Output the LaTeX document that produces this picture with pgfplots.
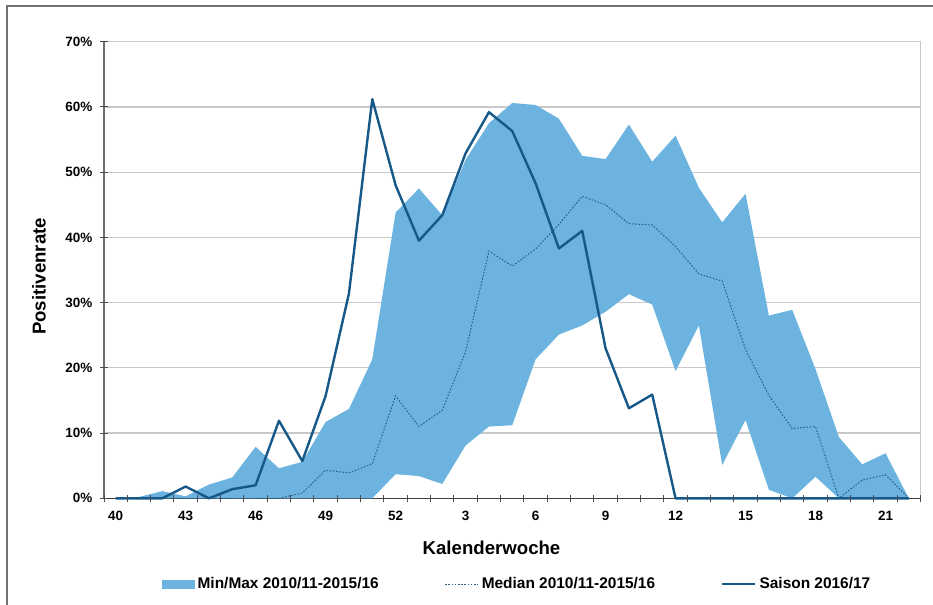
\documentclass[border=0pt]{standalone}
\usepackage{fontspec}
\setmainfont{Liberation Sans}
\usepackage{pgfplots}
\usepackage{pgfplotstable}
\pgfplotsset{compat=1.18}
\usepgfplotslibrary{fillbetween}
\definecolor{bandblue}{RGB}{108,180,223}
\definecolor{saiblue}{RGB}{22,88,135}
\definecolor{medblue}{RGB}{40,96,138}
\definecolor{gridgray}{RGB}{200,200,200}
\definecolor{axgray}{RGB}{110,110,110}

\pgfplotstableread{
idx week max min med sai
0 40 0 0 0 0
1 41 0.2 0 0 0
2 42 1.1 0 0 0
3 43 0.3 0 0 1.8
4 44 2.1 0 0 0
5 45 3.2 0 0 1.4
6 46 7.9 0 0 2.0
7 47 4.6 0 0 11.9
8 48 5.6 0 0.8 5.7
9 49 11.7 0 4.3 15.7
10 50 13.7 0 3.9 31.4
11 51 21.3 0 5.3 61.2
12 52 43.8 3.7 15.7 48.0
13 1 47.5 3.4 11.0 39.5
14 2 43.4 2.2 13.5 43.4
15 3 51.9 8.1 22.5 52.9
16 4 57.5 11.0 37.9 59.2
17 5 60.6 11.2 35.6 56.3
18 6 60.3 21.3 38.2 48.3
19 7 58.2 25.1 42.0 38.3
20 8 52.5 26.5 46.3 41.0
21 9 52.0 28.6 45.0 23.0
22 10 57.3 31.3 42.1 13.8
23 11 51.6 29.7 41.9 15.9
24 12 55.6 19.5 38.6 0
25 13 47.6 26.5 34.4 0
26 14 42.3 5.1 33.3 0
27 15 46.7 12.0 22.8 0
28 16 28.0 1.3 15.8 0
29 17 28.9 0 10.7 0
30 18 19.8 3.3 11.0 0
31 19 9.4 0 0 0
32 20 5.2 0 2.8 0
33 21 6.9 0 3.6 0
34 22 0 0 0 0
}\datatable

\begin{document}
\begin{tikzpicture}
\begin{axis}[
  at={(0,0)}, anchor=south west,
  scale only axis,
  width=816.5bp, height=456.6bp,
  xmin=-0.5, xmax=34.5,
  ymin=0, ymax=70,
  clip=false,
  axis lines*=left,
  x axis line style={draw=black!75, line width=1.3bp},
  y axis line style={draw=axgray, line width=1.3bp},
  xtick={-0.5,0.5,...,34.5},
  xticklabels={40,,,43,,,46,,,49,,,52,,,3,,,6,,,9,,,12,,,15,,,18,,,21,,},
  ytick={0,10,...,70},
  yticklabel={\pgfmathprintnumber[assume math mode=true]{\tick}\%},
  tick align=center,
  major tick length=7.5bp,
  xtick style={draw=black!70, line width=1bp},
  ytick style={draw=black!70, line width=1bp},
  ymajorgrids,
  grid style={draw=gridgray, line width=1.3bp},
  tick label style={font=\fontsize{13.5}{16}\selectfont\bfseries},
  yticklabel style={anchor=east, inner sep=0pt, xshift=-7.8bp},
  xticklabel style={anchor=north, inner sep=0pt, yshift=-9.3bp, xshift=11.664bp},
  xlabel={Kalenderwoche},
  ylabel={Positivenrate},
  label style={font=\fontsize{18.7}{22}\selectfont\bfseries},
  xlabel style={at={(axis description cs:0.4746,-0.1088)}, anchor=center},
  ylabel style={at={(axis description cs:-0.0796,0.4858)}, anchor=center},
  legend columns=3,
  legend style={at={(axis description cs:0.5064,-0.1877)}, anchor=center,
    draw=none, fill=none, font=\fontsize{15.5}{18}\selectfont\bfseries,
    nodes={inner xsep=3bp, inner ysep=1bp},
    /tikz/every even column/.append style={column sep=63bp}},
  legend cell align=left,
]
\addplot[draw=none, name path=upper, forget plot] table[x=idx, y=max] {\datatable};
\addplot[draw=none, name path=lower, forget plot] table[x=idx, y=min] {\datatable};
\addplot[fill=bandblue, draw=none,
  legend image code/.code={\fill[bandblue] (0bp,-4.5bp) rectangle (33bp,4.5bp);}]
  fill between[of=upper and lower];
\addlegendentry{Min/Max 2010/11-2015/16}
\addplot[medblue, line width=1bp, dash pattern=on 1.6bp off 1.6bp,
  legend image code/.code={\draw[medblue, line width=1bp, dash pattern=on 1.6bp off 1.6bp] (0bp,0bp)--(33bp,0bp);}]
  table[x=idx, y=med] {\datatable};
\addlegendentry{Median 2010/11-2015/16}
\addplot[saiblue, line width=2.4bp, line join=round,
  legend image code/.code={\draw[saiblue, line width=2.4bp] (0bp,0bp)--(33bp,0bp);}]
  table[x=idx, y=sai] {\datatable};
\addlegendentry{Saison 2016/17}
\draw[draw=gridgray, line width=1.3bp] (rel axis cs:1,0) -- (rel axis cs:1,1);
\end{axis}
\foreach \i in {0,1,...,35} {
  \draw[draw=black!70, line width=1bp] (\i*23.3286bp,-3.75bp) -- (\i*23.3286bp,3.75bp);
}
\foreach \j in {0,1,...,7} {
  \draw[draw=black!70, line width=1bp] (-4bp,\j*65.2286bp) -- (4bp,\j*65.2286bp);
}
\draw[draw=black!55, line width=1.3bp] (-97bp,-110bp) -- (-97bp,492.3bp) -- (835bp,492.3bp);
\pgfresetboundingbox
\path[use as bounding box] (-104bp,-106.7bp) rectangle (829bp,498.3bp);
\end{tikzpicture}
\end{document}
